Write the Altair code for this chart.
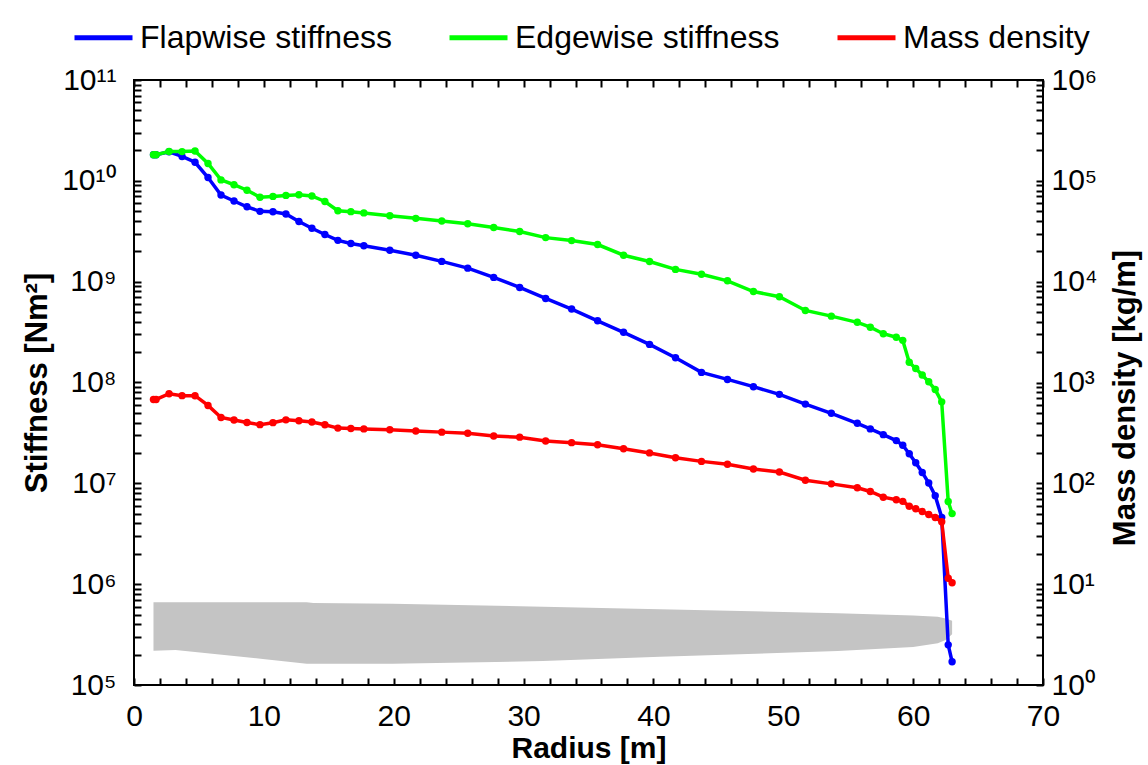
import altair as alt
import pandas as pd

# ---------------- data ----------------
radius = [1.5, 1.7, 2.7, 3.7, 4.7, 5.7, 6.7, 7.7, 8.7, 9.7, 10.7, 11.7, 12.7, 13.7, 14.7,
          15.7, 16.7, 17.7, 19.7, 21.7, 23.7, 25.7, 27.7, 29.7, 31.7, 33.7, 35.7, 37.7,
          39.7, 41.7, 43.7, 45.7, 47.7, 49.7, 51.7, 53.7, 55.7, 56.7, 57.7, 58.7, 59.2,
          59.7, 60.2, 60.7, 61.2, 61.7, 62.2, 62.7, 63.0]

flap = [18110e6, 18110e6, 19424.9e6, 17455.9e6, 15287.4e6, 10782.4e6, 7229.72e6, 6309.54e6,
        5528.36e6, 4980.06e6, 4936.84e6, 4691.66e6, 3949.46e6, 3386.52e6, 2933.74e6,
        2568.96e6, 2388.65e6, 2271.99e6, 2050.05e6, 1828.25e6, 1588.71e6, 1361.93e6,
        1102.38e6, 875.80e6, 681.30e6, 534.72e6, 408.90e6, 314.54e6, 238.63e6, 175.88e6,
        126.01e6, 107.26e6, 90.88e6, 76.31e6, 61.05e6, 49.48e6, 39.36e6, 34.67e6, 30.41e6,
        26.52e6, 23.84e6, 19.63e6, 16.00e6, 12.83e6, 10.08e6, 7.55e6, 4.60e6, 0.25e6, 0.17e6]

edge = [18113.6e6, 18113.6e6, 19558.6e6, 19497.8e6, 19788.8e6, 14858.5e6, 10220.6e6, 9144.7e6,
        8063.16e6, 6884.44e6, 7009.18e6, 7167.68e6, 7271.66e6, 7081.70e6, 6244.53e6,
        5048.96e6, 4948.49e6, 4808.02e6, 4501.40e6, 4244.07e6, 3995.28e6, 3750.76e6,
        3447.14e6, 3139.07e6, 2734.24e6, 2554.87e6, 2334.03e6, 1828.73e6, 1584.10e6,
        1323.36e6, 1183.68e6, 1020.16e6, 797.81e6, 709.61e6, 518.19e6, 454.87e6, 395.12e6,
        353.72e6, 304.73e6, 281.42e6, 261.71e6, 158.81e6, 137.88e6, 118.79e6, 101.63e6,
        85.07e6, 64.26e6, 6.61e6, 5.01e6]

mass = [678.935, 678.935, 773.363, 740.550, 740.042, 592.496, 450.275, 424.054, 400.638,
        382.062, 399.655, 426.321, 416.820, 406.186, 381.420, 352.822, 349.477, 346.538,
        339.333, 330.004, 321.990, 313.820, 294.734, 287.120, 263.343, 253.207, 241.666,
        220.638, 200.293, 179.404, 165.094, 154.411, 138.935, 129.555, 107.264, 98.776,
        90.248, 83.001, 72.906, 68.772, 66.264, 59.340, 55.914, 52.484, 49.114, 45.818,
        41.669, 11.453, 10.319]

# blade planform silhouette (grey), in left-axis units
plan_r = [1.5, 3.2, 10.1, 13.3, 13.8, 19.9, 31.5, 40.5, 54.2, 60.0, 61.9, 62.5, 63.0]
plan_top = [6.6e5, 6.6e5, 6.6e5, 6.6e5, 6.5e5, 6.4e5, 5.98e5, 5.64e5, 5.14e5, 4.9e5, 4.76e5, 4.57e5, 4.34e5]
plan_bottom = [2.19e5, 2.22e5, 1.80e5, 1.62e5, 1.62e5, 1.62e5, 1.73e5, 1.91e5, 2.17e5, 2.38e5, 2.59e5, 2.79e5, 3.18e5]

series_names = ["Flapwise stiffness", "Edgewise stiffness", "Mass density"]
series_colors = ["#0000ff", "#00ff00", "#ff0000"]

# tick positions (majors labelled, minors unlabelled)
x_ticks = list(range(0, 71, 2))
y_ticks = [m * 10 ** e for e in range(5, 11) for m in range(1, 10)] + [10 ** 11]
m_ticks = [m * 10 ** e for e in range(0, 6) for m in range(1, 10)] + [10 ** 6]

# ---------------- tables ----------------
n = len(radius)
stiff_df = pd.DataFrame({"r": radius + radius, "v": flap + edge,
                         "s": [series_names[0]] * n + [series_names[1]] * n})
mass_df = pd.DataFrame({"r": radius, "v": mass, "s": [series_names[2]] * n})
plan_df = pd.DataFrame({"r": plan_r, "top": plan_top, "bottom": plan_bottom})

# ---------------- layout / style ----------------
W, H = 909, 605
FONT = "Liberation Sans"
TK = 7  # tick length; axes are moved inward by TK so the ticks point into the frame
xs = alt.Scale(domain=[0, 70], nice=False, zero=False)
ys = alt.Scale(type="log", domain=[1e5, 1e11], nice=False)
ms = alt.Scale(type="log", domain=[1, 1e6], nice=False)

SUP = "['⁰','¹','²','³','⁴','⁵','⁶','⁷','⁸','⁹','¹⁰','¹¹']"
LOG10 = "log(datum.value)/LN10"
log_label = ("abs(" + LOG10 + " - round(" + LOG10 + ")) < 0.001 ? '10' + " + SUP
             + "[round(" + LOG10 + ")] : ''")
x_label = "datum.value % 10 === 0 ? datum.label : ''"

legend = alt.Legend(orient="none", legendX=-62, legendY=-74, direction="horizontal",
                    title=None, symbolType="stroke", symbolSize=3364, symbolStrokeWidth=5,
                    labelFont=FONT, labelFontSize=32, labelColor="black", labelOffset=5,
                    columnPadding=47, padding=0, labelLimit=500)
color = alt.Color("s:N", scale=alt.Scale(domain=series_names, range=series_colors),
                  legend=legend)

tick_style = dict(ticks=True, tickSize=TK, tickWidth=2, tickColor="black", offset=-TK,
                  domain=False, grid=False, zindex=1)

# grey blade silhouette + bottom / left axes
planform = alt.Chart(plan_df).mark_area(color="#c4c4c4").encode(
    x=alt.X("r:Q", scale=xs, axis=alt.Axis(
        orient="bottom", values=x_ticks, labelExpr=x_label, **tick_style,
        labelFont=FONT, labelFontSize=30, labelColor="black", labelPadding=16,
        labelFlush=False, labelOverlap=False,
        title="Radius [m]", titleFont=FONT, titleFontSize=30, titleFontWeight="bold",
        titleColor="black", titleX=W / 2, titleY=63 + TK, titleBaseline="middle",
        titleAlign="center")),
    y=alt.Y("top:Q", scale=ys, axis=alt.Axis(
        orient="left", values=y_ticks, labelExpr=log_label, **tick_style,
        labelFont=FONT, labelFontSize=30, labelColor="black",
        labelPadding=18, labelOverlap=False,
        title="Stiffness [Nm²]", titleFont=FONT, titleFontSize=31, titleFontWeight="bold",
        titleColor="black", titleAngle=270, titleX=-97 - TK, titleY=H / 2,
        titleBaseline="middle", titleAlign="center")),
    y2="bottom:Q",
)


def series_line(df, name, scale, xaxis, yaxis):
    return alt.Chart(df).transform_filter(alt.datum.s == name).mark_line(
        strokeWidth=3.5).encode(
        x=alt.X("r:Q", scale=xs, axis=xaxis),
        y=alt.Y("v:Q", scale=scale, axis=yaxis),
        color=color,
    )


def series_pts(df, name, scale, col):
    return alt.Chart(df).transform_filter(alt.datum.s == name).mark_circle(
        size=55, color=col, opacity=1).encode(
        x=alt.X("r:Q", scale=xs, axis=None),
        y=alt.Y("v:Q", scale=scale, axis=None),
    )


mass_axis = alt.Axis(
    orient="right", values=m_ticks, labelExpr=log_label, **tick_style,
    labelFont=FONT, labelFontSize=30, labelColor="black",
    labelPadding=8, labelOverlap=False,
    title="Mass density [kg/m]", titleFont=FONT, titleFontSize=31,
    titleFontWeight="bold", titleColor="black", titleAngle=270, titleX=82 + TK,
    titleY=H / 2 + 15, titleBaseline="middle", titleAlign="center")

top_axis = alt.Axis(orient="top", values=x_ticks, labels=False, title=None, **tick_style)

flap_line = series_line(stiff_df, series_names[0], ys, None, None)
flap_pts = series_pts(stiff_df, series_names[0], ys, series_colors[0])
edge_line = series_line(stiff_df, series_names[1], ys, None, None)
edge_pts = series_pts(stiff_df, series_names[1], ys, series_colors[1])
mass_line = series_line(mass_df, series_names[2], ms, top_axis, mass_axis)
mass_pts = series_pts(mass_df, series_names[2], ms, series_colors[2])

chart = alt.layer(
    planform, flap_line, flap_pts, edge_line, edge_pts, mass_line, mass_pts
).resolve_scale(
    y="independent"
).resolve_axis(
    x="independent", y="independent"
).properties(
    width=W, height=H,
    padding={"left": 134, "top": 80, "right": 105, "bottom": 80},
    autosize=alt.AutoSizeParams(type="none"),
).configure(
    font=FONT, background="white"
).configure_view(
    stroke="black", strokeWidth=2
)

chart.save("out.html", embed_options={"renderer": "svg", "actions": False})
